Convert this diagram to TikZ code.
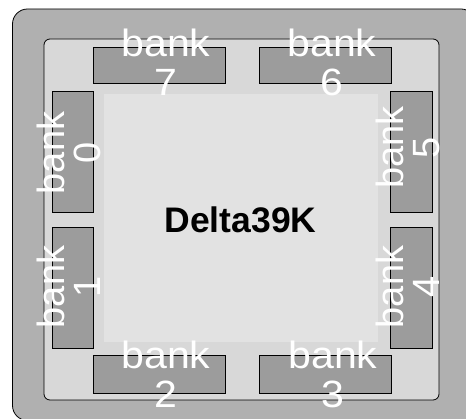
\documentclass[tikz,border=0pt]{standalone}
\usepackage{fontspec}
\setmainfont{Liberation Sans}
\newfontfamily\widefont[FakeStretch=1.08]{Liberation Sans}
\definecolor{outerc}{HTML}{B0B0B0}
\definecolor{innerc}{HTML}{D8D8D8}
\definecolor{bankc}{HTML}{9C9C9C}
\definecolor{corec}{HTML}{E2E2E2}
\begin{document}
\begin{tikzpicture}[x=1pt,y=-1pt,
  bankbox/.style={draw=black, line width=0.8pt, fill=bankc, inner sep=0pt, outer sep=0pt},
  hlabel/.style={text=white, align=center, inner sep=0pt, font=\widefont\fontsize{38}{39}\selectfont},
  vlabel/.style={text=white, align=center, inner sep=0pt, rotate=90, font=\fontsize{38}{36}\selectfont},
]
\useasboundingbox (0,0) rectangle (466,419);
\clip (0,0) rectangle (466,419);
% package outline
\draw[fill=outerc, line width=0.8pt, rounded corners=15pt] (12.5,9) rectangle (476,420.5);
\draw[fill=innerc, line width=0.8pt, rounded corners=6pt] (44,39) rectangle (439,400);
% core
\node[fill=corec, inner sep=0pt, minimum width=274pt, minimum height=248pt] (core) at (241,218) {};
% banks
\node[bankbox, minimum width=132pt, minimum height=36pt] (b7) at (159,65) {};
\node[bankbox, minimum width=132pt, minimum height=36pt] (b6) at (325,65) {};
\node[bankbox, minimum width=132pt, minimum height=38pt] (b2) at (159,374) {};
\node[bankbox, minimum width=132pt, minimum height=38pt] (b3) at (325,374) {};
\node[bankbox, minimum width=41pt, minimum height=121pt] (b0) at (72.5,151.5) {};
\node[bankbox, minimum width=41pt, minimum height=121pt] (b1) at (72.5,287.5) {};
\node[bankbox, minimum width=42pt, minimum height=121pt] (b5) at (411,151.5) {};
\node[bankbox, minimum width=42pt, minimum height=121pt] (b4) at (411,287.5) {};
% labels
\node[hlabel] (l7) at (166,62) {bank\\7};
\node[hlabel] (l6) at (332,62) {bank\\6};
\node[hlabel] (l2) at (166,374) {bank\\2};
\node[hlabel] (l3) at (333,374) {bank\\3};
\node[vlabel] (l0) at (68.5,153) {bank\\0};
\node[vlabel] (l1) at (68.5,287) {bank\\1};
\node[vlabel] (l5) at (407.5,147.5) {bank\\5};
\node[vlabel] (l4) at (407.5,287) {bank\\4};
\node[inner sep=0pt, font=\bfseries\fontsize{35.5}{40}\selectfont] (title) at (240.5,219.5) {Delta39K};
\end{tikzpicture}
\end{document}
